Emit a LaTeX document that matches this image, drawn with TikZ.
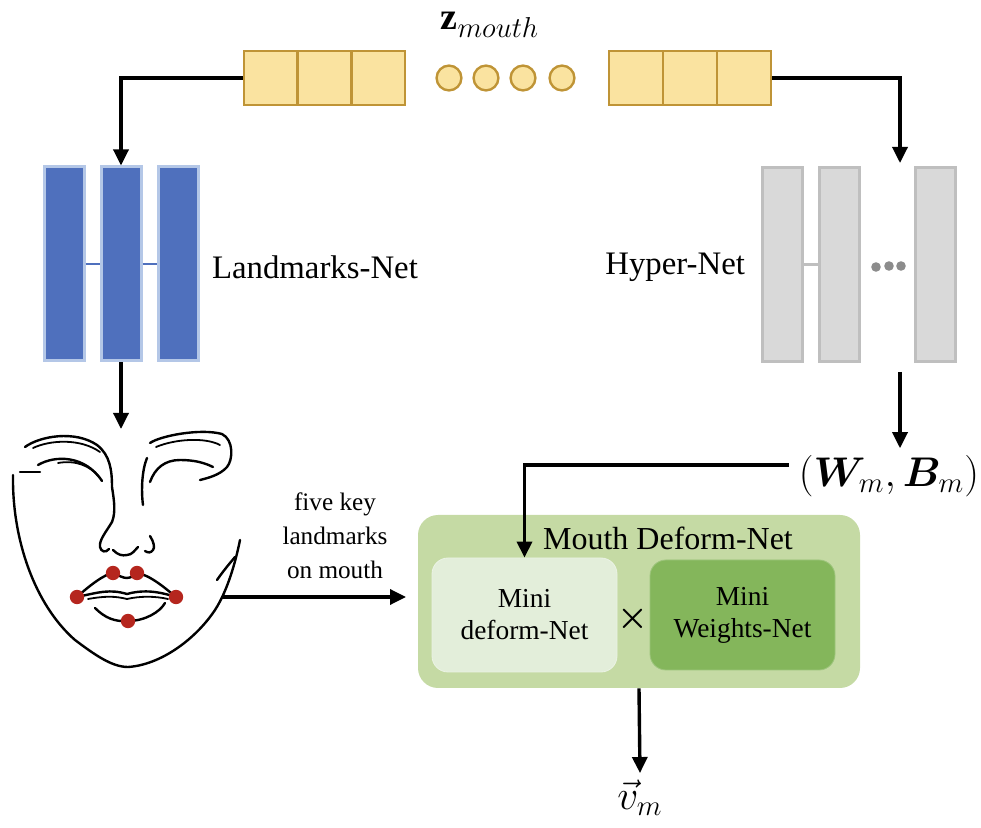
\documentclass[tikz,border=0pt]{standalone}
\usepackage{fontspec}
\setmainfont{Liberation Serif}
\usepackage{amsmath,bm}
\usetikzlibrary{positioning, arrows.meta, calc}
\definecolor{vecfill}{HTML}{FAE3A0}
\definecolor{vecline}{HTML}{BF9436}
\definecolor{lmfill}{HTML}{4F70BD}
\definecolor{lmline}{HTML}{B4C7E7}
\definecolor{hyfill}{HTML}{D9D9D9}
\definecolor{hyline}{HTML}{BFBFBF}
\definecolor{mdnfill}{HTML}{C5DAA4}
\definecolor{defill}{HTML}{E3EEDA}
\definecolor{wtfill}{HTML}{84B65B}
\definecolor{lmkred}{HTML}{B5261E}

\begin{document}
\begin{tikzpicture}[x=0.5pt, y=-0.5pt,
  conn/.style={line width=1.7pt, -{Triangle[length=8pt,width=7.5pt]}},
  cell/.style={draw=vecline, fill=vecfill, line width=1.2pt, minimum width=26.8pt, minimum height=27pt, inner sep=0pt},
  lmlayer/.style={draw=lmline, fill=lmfill, line width=1.5pt, minimum width=20pt, minimum height=97pt, inner sep=0pt},
  hylayer/.style={draw=hyline, fill=hyfill, line width=1.5pt, minimum width=20pt, minimum height=97pt, inner sep=0pt},
  face/.style={line width=1.2pt, line cap=round},
  minibox/.style={rounded corners=8pt, minimum width=92.5pt, inner sep=0pt, align=center, font=\fontsize{13.7}{16}\selectfont}]
  \useasboundingbox (0,0) rectangle (981,828);

  % latent code
  \node[inner sep=0pt, font=\fontsize{19}{22}\selectfont] (zm) at (490,25) {$\mathbf{z}_{mouth}$};
  \foreach \xn/\xc in {1/270.8, 2/324.5, 3/378.2}
    \node[cell] (zl\xn) at (\xc,78) {};
  \foreach \xn/\xc in {1/636, 2/690, 3/744}
    \node[cell] (zr\xn) at (\xc,78) {};
  \foreach \xc in {449,486,523,562}
    \draw[vecline, fill=vecfill, line width=1.2pt] (\xc,78) circle[radius=6.2pt];

  % Landmarks-Net
  \foreach \xn/\xc in {1/64, 2/121, 3/178}
    \node[lmlayer] (lm\xn) at (\xc,264) {};
  \draw[lmfill, line width=1.1pt] (lm1.east) -- (lm2.west) (lm2.east) -- (lm3.west);
  \node[anchor=west, font=\fontsize{16.4}{18}\selectfont] (lmtxt) at (205,267) {Landmarks-Net};

  % Hyper-Net
  \foreach \xn/\xc in {1/782, 2/839.5, 3/935.5}
    \node[hylayer] (hy\xn) at (\xc,264.5) {};
  \draw[hyline, line width=1.1pt] (hy1.east) -- (hy2.west);
  \foreach \xc/\yc in {876/267, 889/266, 901/266}
    \fill[black!45] (\xc,\yc) circle[radius=2.4pt];
  \node[anchor=east, font=\fontsize{16.4}{18}\selectfont] (hytxt) at (752,267) {Hyper-Net};

  \coordinate (hyin) at (900,163);
  \coordinate (hyout) at (900,372);
  \coordinate (facetop) at (121,429);
  \coordinate (facer) at (222,597);
  \coordinate (mdnin) at (406,597);

  \draw[conn] (zl1.west) -| (lm2.north);
  \draw[conn] (zr3.east) -| (hyin);
  \draw[conn] (lm2.south) -- (facetop);

  % weights from the hyper-net
  \node[font=\fontsize{20}{24}\selectfont] (wb) at (889,476) {$(\bm{W}_{m}, \bm{B}_{m})$};
  \draw[conn] (hyout) -- (hyout |- wb.north);

  % face sketch with the mouth landmarks
  \draw[face] (13,475) .. controls (12,540) and (35,605) .. (75,640)
    .. controls (95,655) and (112,667) .. (128,667)
    .. controls (160,665) and (195,640) .. (215,610)
    .. controls (228,590) and (236,560) .. (240,540);
  \draw[face] (217,580) .. controls (224,570) and (230,563) .. (235,557);
  \draw[face] (25,447) .. controls (40,436) and (75,430) .. (97,445)
    .. controls (110,455) and (112,470) .. (112,487)
    .. controls (114,500) and (116,512) .. (112,522)
    .. controls (106,532) and (99,540) .. (100,547)
    .. controls (101,552) and (106,553) .. (109,549);
  \draw[face, line width=0.9pt] (33,448) .. controls (50,440) and (80,438) .. (100,452);
  \draw[face] (38,465) .. controls (55,455) and (85,455) .. (102,481);
  \draw[face, line width=0.9pt] (58,463) .. controls (75,460) and (90,465) .. (100,478);
  \draw[face] (20,472) -- (40,472);
  \draw[face] (150,443) .. controls (160,436) and (200,428) .. (222,434)
    .. controls (234,440) and (233,460) .. (227,467)
    .. controls (220,475) and (208,478) .. (200,480);
  \draw[face, line width=0.9pt] (156,447) .. controls (175,439) and (205,437) .. (220,445);
  \draw[face] (150,482) .. controls (155,468) and (165,460) .. (180,460)
    .. controls (195,460) and (205,463) .. (213,467);
  \draw[face] (147,458) .. controls (142,470) and (141,490) .. (143,505);
  \draw[face] (113,550) .. controls (118,555) and (122,556) .. (127,555)
    .. controls (132,555) and (135,550) .. (138,547);
  \draw[face] (150,536) .. controls (154,542) and (155,548) .. (153,550)
    .. controls (151,553) and (148,553) .. (145,551);
  \draw[face] (77,597) .. controls (90,585) and (105,574) .. (113,573)
    .. controls (120,576) and (123,578) .. (127,578)
    .. controls (131,578) and (134,575) .. (137,573)
    .. controls (150,575) and (165,588) .. (176,597);
  \draw[face] (77,597) .. controls (100,592) and (110,589) .. (127,594)
    .. controls (145,589) and (160,592) .. (176,597);
  \draw[face, line width=0.9pt] (88,599) .. controls (105,596) and (115,596) .. (127,599)
    .. controls (140,596) and (155,596) .. (168,599);
  \draw[face] (95,608) .. controls (105,618) and (115,622) .. (128,621)
    .. controls (145,621) and (160,612) .. (165,603);
  \foreach \xc/\yc in {113/573, 137/573, 77/597, 176/597, 128/621}
    \fill[lmkred] (\xc,\yc) circle[radius=3.6pt];

  \node[align=center, font=\fontsize{12.6}{17}\selectfont] (lmklbl) at (335,536) {five key\\landmarks\\on mouth};
  \draw[conn] (facer) -- (mdnin);

  % Mouth Deform-Net
  \node[fill=mdnfill, rounded corners=10pt, minimum width=221pt, minimum height=86.5pt] (mdn) at (639,601.5) {};
  \node[font=\fontsize{16}{18}\selectfont] (mdntxt) at (668,538) {Mouth Deform-Net};
  \node[minibox, fill=defill, draw=defill!70!white, minimum height=57pt] (mdef) at (524.5,615) {Mini\\deform-Net};
  \node[minibox, fill=wtfill, draw=wtfill!80!white, minimum height=55pt] (mwts) at (742.5,615) {Mini\\Weights-Net};
  \node[font=\fontsize{17}{18}\selectfont] (times) at (633,619) {$\boldsymbol{\times}$};
  \draw[conn] ($(wb.west)+(-3,-11)$) -| (mdef.north);

  \node[font=\fontsize{20}{24}\selectfont] (vm) at (640,798) {$\vec{v}_m$};
  \draw[conn] (mdn.south) -- (vm.north);
\end{tikzpicture}
\end{document}
